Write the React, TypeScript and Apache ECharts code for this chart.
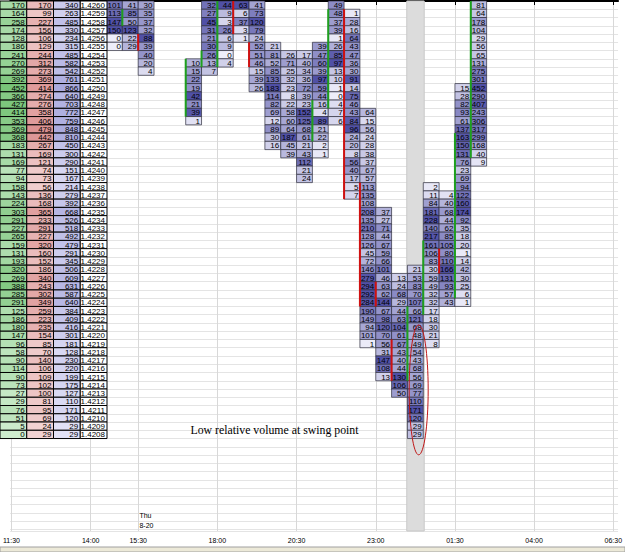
import { useEffect, useRef } from 'react';
import * as echarts from 'echarts';

// ---------- left volume-at-price table ----------
const prices = ['1.4260','1.4259','1.4258','1.4257','1.4256','1.4255','1.4254','1.4253','1.4252','1.4251','1.4250','1.4249','1.4248','1.4247','1.4246','1.4245','1.4244','1.4243','1.4242','1.4241','1.4240','1.4239','1.4238','1.4237','1.4236','1.4235','1.4234','1.4233','1.4232','1.4231','1.4230','1.4229','1.4228','1.4227','1.4226','1.4225','1.4224','1.4223','1.4222','1.4221','1.4220','1.4219','1.4218','1.4217','1.4216','1.4215','1.4214','1.4213','1.4212','1.4211','1.4210','1.4209','1.4208'];
const buyVol = [170,164,258,174,128,186,241,270,269,392,452,366,427,414,353,369,368,183,131,169,77,94,158,143,224,303,291,227,265,159,131,193,320,269,388,285,291,125,186,180,147,96,58,90,114,90,73,27,29,76,51,5,0];
const sellVol = [170,99,227,156,106,129,244,312,273,369,414,274,276,358,406,479,442,267,169,121,74,73,56,136,168,365,233,291,227,320,160,152,186,340,243,302,349,259,223,235,154,85,70,140,106,109,102,100,81,95,69,24,29];
const totalVol = [340,263,485,330,234,315,485,582,542,761,866,640,703,772,759,848,810,450,300,290,151,167,214,279,392,668,526,518,492,479,291,345,506,609,631,587,640,384,409,416,301,181,128,230,220,199,175,127,110,171,120,29,29];

// ---------- footprint columns (30-minute bars): values from top price row down ----------
const v1430 = [101,113,147,150,0,0];
const v1500 = [41,85,50,123,22,29];
const v1530 = [30,35,37,32,88,39,40,20,4];
const v1700 = [10,15,22,19,42,21,39,1];
const v1730 = [32,27,45,31,21,30,26,13,7];
const v1800 = [44,9,3,26,6,9,0,4];
const v1830 = [63,6,37,3,1];
const v1900 = [41,73,120,79,24,52,51,46,15,39,26];
const v1930 = [21,81,52,85,133,183,114,82,69,12,89,30,16];
const v2000 = [26,71,25,32,23,8,22,58,60,64,187,45,39];
const v2030 = [17,40,34,36,72,39,23,152,125,68,61,21,43,112,21,24];
const v2100 = [39,47,60,39,97,59,44,16,4,89,21,22,2,1];
const v2130 = [49,48,37,39,1,26,85,97,13,10,1,0,4,7,6];
const v2200 = [1,28,16,64,43,47,36,30,91,14,75,46,43,84,96,24,20,8,56,40,17,5,7];
const v2230 = [64,15,56,24,28,38,37,67,57,113,135,108,208,135,210,128,126,45,72,146,279,294,292,284,190,149,94,101,1];
const v2300 = [37,27,71,44,67,59,66,101,46,63,62,144,67,98,120,70,56,31,147,108,13];
const v2330 = [13,24,68,29,44,63,104,61,67,43,40,44,130,106,50];
const v0000 = [21,53,83,70,107,66,121,68,48,49,54,43,68,56,69,77,110,171,120,29,29];
const v0030 = [2,11,84,181,228,140,217,161,106,83,30,59,49,32,32,17,18,30,21,8];
const v0100 = [4,40,68,44,62,85,105,80,110,166,131,93,57,43];
const v0130 = [15,28,82,93,61,137,163,150,131,76,23,69,94,122,160,174,92,35,18,20,1,14,42,30,25,6,1];
const v0200 = [81,64,178,104,29,56,65,131,275,301,452,290,407,243,306,317,299,168,40,9];

// slot = half-hours since 11:30, firstRow = index of the top price row
const fpSlots =    [6, 7, 8, 11, 12, 13, 14, 15, 16, 17, 18, 19, 20, 21, 22, 23, 24, 25, 26, 27, 28, 29];
const fpFirstRow = [0, 0, 0, 7,  0,  0,  0,  0,  5,  6,  6,  5,  0,  1,  13, 25, 33, 32, 22, 23, 10, 0];
const fpValues = [v1430,v1500,v1530,v1700,v1730,v1800,v1830,v1900,v1930,v2000,v2030,v2100,v2130,v2200,v2230,v2300,v2330,v0000,v0030,v0100,v0130,v0200];

// open/close body marks: [slot, fromRow, toRow, direction 1 up / -1 down]
const bodies = [
  [7,1,2,1],[8,4,5,-1],[11,7,13,1],[12,6,7,1],[13,0,7,1],[14,0,3,-1],[15,5,7,-1],
  [19,12,16,1],[20,1,12,1],[21,1,23,-1],[22,22,36,-1],[23,34,36,-1],[24,41,45,-1],
  [25,37,45,1],[26,29,37,1],[27,30,32,-1],[28,16,35,1],[29,0,18,1],
];

const highlightSlot = [25];
const timeTicks = [0, 5, 8, 13, 18, 23, 28, 33, 38];
const timeLabels = ['11:30', '14:00', '15:30', '18:00', '20:30', '23:00', '01:30', '04:00', '06:30'];
const note = 'Low relative volume at swing point';

function mix(a: number[], b: number[], t: number) {
  const c = a.map((v, i) => Math.round(v + (b[i] - v) * t));
  return `rgb(${c[0]},${c[1]},${c[2]})`;
}

const FONT = '"Liberation Sans", Arial, sans-serif';

export default function App() {
  const ref = useRef<HTMLDivElement>(null);
  useEffect(() => {
    document.body.style.margin = '0';
    const chart = echarts.init(ref.current!, null, { renderer: 'svg' });

    const fpData: number[][] = [];
    fpValues.forEach((vals, ci) => {
      const mx = Math.max(...vals);
      vals.forEach((v, j) => fpData.push([fpSlots[ci], fpFirstRow[ci] + j, v, mx ? v / mx : 0]));
    });

    const tableInfo: { text: string; fill: string }[] = [];
    const tableData: number[][] = [];
    const mb = Math.max(...buyVol), ms = Math.max(...sellVol), mt = Math.max(...totalVol);
    prices.forEach((p, r) => {
      tableData.push([0, r]); tableInfo.push({ text: String(buyVol[r]), fill: mix([206, 236, 206], [120, 196, 120], Math.pow(buyVol[r] / mb, 0.8)) });
      tableData.push([1, r]); tableInfo.push({ text: String(sellVol[r]), fill: mix([244, 218, 218], [220, 146, 146], Math.pow(sellVol[r] / ms, 0.8)) });
      tableData.push([2, r]); tableInfo.push({ text: String(totalVol[r]), fill: mix([230, 230, 248], [170, 170, 222], Math.pow(totalVol[r] / mt, 0.8)) });
      tableData.push([3, r]); tableInfo.push({ text: p, fill: '#ffffff' });
    });

    const option: any = {
      animation: false,
      grid: [
        { left: 0, right: 0, top: 1, bottom: 21 },
        { left: 0, width: 107, top: 1, bottom: 21 },
      ],
      xAxis: [
        {
          type: 'value', gridIndex: 0, min: -0.08, max: 38.3,
          axisLine: { lineStyle: { color: '#000', width: 2 } },
          axisTick: { show: true, customValues: timeTicks, length: 4, lineStyle: { color: '#000' } },
          axisLabel: {
            customValues: timeTicks, color: '#000', fontSize: 7, fontFamily: FONT, margin: 6,
            formatter: (v: number) => timeLabels[timeTicks.indexOf(Math.round(v))] ?? '',
          },
          splitLine: { show: true, lineStyle: { color: '#d8d8d8', width: 1 } },
        },
        { type: 'value', gridIndex: 1, min: 0, max: 4, show: false },
      ],
      yAxis: [
        {
          type: 'value', gridIndex: 0, inverse: true, min: 0, max: 64.2, interval: 1,
          axisLine: { show: false }, axisTick: { show: false }, axisLabel: { show: false },
          splitLine: { show: true, lineStyle: { color: '#e4e4e4', width: 1 } },
        },
        { type: 'value', gridIndex: 1, inverse: true, min: 0, max: 64.2, show: false },
      ],
      series: [
        {
          type: 'custom', xAxisIndex: 0, yAxisIndex: 0, z: 1,
          data: highlightSlot.map((s) => [s]),
          renderItem: (params: any, api: any) => {
            const s = api.value(0);
            const a = api.coord([s - 0.04, 0]);
            const b = api.coord([s + 1.06, 0]);
            const cs = params.coordSys;
            return { type: 'rect', shape: { x: a[0], y: cs.y, width: b[0] - a[0], height: cs.height }, style: { fill: '#dcdcdc', stroke: '#c8c8c8', lineWidth: 1 } };
          },
        },
        {
          type: 'custom', xAxisIndex: 0, yAxisIndex: 0, z: 3,
          data: fpData,
          renderItem: (_p: any, api: any) => {
            const s = api.value(0), r = api.value(1), v = api.value(2), t = api.value(3);
            const p0 = api.coord([s, r]);
            const p1 = api.coord([s + 1, r + 1]);
            const dark = [80, 80, 166], light = [238, 238, 250];
            return {
              type: 'group',
              children: [
                { type: 'rect', shape: { x: p0[0], y: p0[1], width: p1[0] - p0[0], height: p1[1] - p0[1] },
                  style: { fill: mix(light, dark, Math.pow(t, 0.7)), stroke: '#2c2c3c', lineWidth: 0.7 } },
                { type: 'text', style: { text: String(v), x: p1[0] - 1.5, y: (p0[1] + p1[1]) / 2 + 0.5, align: 'right', verticalAlign: 'middle', font: `8px ${FONT}`, fill: '#000' } },
              ],
            };
          },
        },
        {
          type: 'custom', xAxisIndex: 0, yAxisIndex: 0, z: 4,
          data: bodies,
          renderItem: (_p: any, api: any) => {
            const s = api.value(0), r0 = api.value(1), r1 = api.value(2), d = api.value(3);
            const a = api.coord([s, r0]);
            const b = api.coord([s, r1 + 1]);
            return { type: 'rect', shape: { x: a[0] - 1, y: a[1], width: 2, height: b[1] - a[1] }, style: { fill: d > 0 ? '#1ea01e' : '#d01010' } };
          },
        },
        {
          type: 'custom', xAxisIndex: 1, yAxisIndex: 1, z: 6,
          data: tableData,
          renderItem: (params: any, api: any) => {
            const c = api.value(0), r = api.value(1);
            const info = tableInfo[params.dataIndex];
            const p0 = api.coord([c, r]);
            const p1 = api.coord([c + 1, r + 1]);
            return {
              type: 'group',
              children: [
                { type: 'rect', shape: { x: p0[0], y: p0[1], width: p1[0] - p0[0], height: p1[1] - p0[1] }, style: { fill: info.fill, stroke: '#000', lineWidth: 1 } },
                { type: 'text', style: { text: info.text, x: p1[0] - 2, y: (p0[1] + p1[1]) / 2 + 0.5, align: 'right', verticalAlign: 'middle', font: `8px ${FONT}`, fill: '#000' } },
              ],
            };
          },
        },
      ],
    };
    chart.setOption(option);

    const e = chart.convertToPixel({ gridIndex: 0 }, [25.71, 47.1]) as number[];
    const n = chart.convertToPixel({ gridIndex: 0 }, [11.3, 51.95]) as number[];
    const d = chart.convertToPixel({ gridIndex: 0 }, [8.08, 64.1]) as number[];
    chart.setOption({
      graphic: [
        { type: 'ellipse', shape: { cx: e[0], cy: e[1], rx: 9.5, ry: 65 }, style: { fill: 'none', stroke: '#c01818', lineWidth: 1 }, z: 20 },
        { type: 'text', x: n[0], y: n[1], style: { text: note, font: '11.8px "Liberation Serif", "Times New Roman", serif', fill: '#000', verticalAlign: 'middle' }, z: 20 },
        { type: 'text', x: d[0], y: d[1], style: { text: 'Thu\n8-20', font: `7px ${FONT}`, fill: '#000', lineHeight: 10, verticalAlign: 'bottom' }, z: 20 },
        { type: 'rect', shape: { x: 0, y: 547, width: 625, height: 5 }, style: { fill: '#ece9d8', stroke: '#a0a0a0', lineWidth: 1 }, z: 20 },
      ],
    });
    return () => chart.dispose();
  }, []);
  return <div ref={ref} style={{ width: 625, height: 552 }} />;
}
